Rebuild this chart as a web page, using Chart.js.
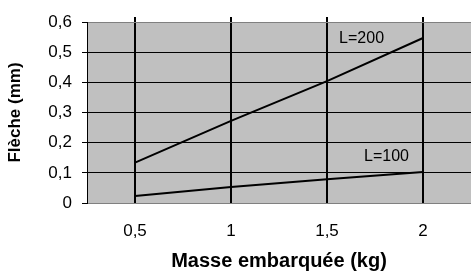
<!DOCTYPE html>
<html>
<head>
<meta charset="utf-8">
<script src="https://cdn.jsdelivr.net/npm/chart.js@4/dist/chart.umd.min.js"></script>
<style>
  html, body { margin: 0; padding: 0; background: #fff; }
  #wrap { width: 471px; height: 273px; }
</style>
</head>
<body>
<div id="wrap"><canvas id="fleche"></canvas></div>
<script>
// Flèche vs masse embarquée
const masses = [0.5, 1, 1.5, 2];
const flecheL200 = [0.134, 0.272, 0.404, 0.547];
const flecheL100 = [0.023, 0.053, 0.079, 0.103];
const xTicks = [0.5, 1, 1.5, 2];
const seriesNames = ["L=200", "L=100"];

const fmt = v => (Math.round(v * 10) / 10).toString().replace(".", ",");

// gray plot area + bits Excel draws that Chart.js doesn't
const plotDecor = {
  id: "plotDecor",
  beforeDraw(chart) {
    const { ctx, chartArea: a } = chart;
    ctx.save();
    ctx.fillStyle = "#fff";
    ctx.fillRect(0, 0, chart.width, chart.height);
    ctx.fillStyle = "#c0c0c0";
    ctx.fillRect(a.left, a.top, a.right - a.left, a.bottom - a.top);
    ctx.restore();
  },
  afterDraw(chart) {
    const { ctx, chartArea: a, scales } = chart;
    ctx.save();
    // vertical lines poke a little above the plot
    ctx.strokeStyle = "#000";
    ctx.lineWidth = 2;
    xTicks.forEach(v => {
      const x = scales.x.getPixelForValue(v);
      ctx.beginPath();
      ctx.moveTo(x, a.top - 5);
      ctx.lineTo(x, a.top);
      ctx.stroke();
    });
    // series labels
    ctx.fillStyle = "#000";
    ctx.font = "16px 'Liberation Sans', Arial, sans-serif";
    ctx.textAlign = "center";
    ctx.textBaseline = "middle";
    ctx.fillText(seriesNames[0], scales.x.getPixelForValue(1.68), scales.y.getPixelForValue(0.545));
    ctx.fillText(seriesNames[1], scales.x.getPixelForValue(1.81), scales.y.getPixelForValue(0.153));
    ctx.restore();
  }
};

new Chart(document.getElementById("fleche"), {
  type: "line",
  data: {
    datasets: [
      {
        label: seriesNames[0],
        data: masses.map((m, i) => ({ x: m, y: flecheL200[i] })),
        borderColor: "#000",
        borderWidth: 2,
        pointRadius: 0,
        tension: 0,
      },
      {
        label: seriesNames[1],
        data: masses.map((m, i) => ({ x: m, y: flecheL100[i] })),
        borderColor: "#000",
        borderWidth: 2,
        pointRadius: 0,
        tension: 0,
      },
    ],
  },
  options: {
    responsive: true,
    maintainAspectRatio: false,
    animation: false,
    layout: { padding: { top: 22, right: 0, left: 0, bottom: 0 } },
    plugins: { legend: { display: false }, tooltip: { enabled: false } },
    scales: {
      x: {
        type: "linear",
        min: 0.25,
        max: 2.25,
        afterBuildTicks: s => { s.ticks = xTicks.map(v => ({ value: v })); },
        afterFit: s => { s.height = 70; },
        border: { display: false },
        grid: { color: "#000", lineWidth: 2, drawTicks: false },
        ticks: {
          padding: 18,
          color: "#000",
          font: { family: "'Liberation Sans', Arial, sans-serif", size: 17 },
          callback: v => fmt(v),
        },
        title: {
          display: true,
          text: "Masse embarquée (kg)",
          color: "#000",
          padding: { top: 0, bottom: 0 },
          font: { family: "'Liberation Sans', Arial, sans-serif", size: 20, weight: "bold" },
        },
      },
      y: {
        min: 0,
        max: 0.6,
        afterFit: s => { s.width = 87; },
        border: { display: true, color: "#000", width: 1 },
        grid: {
          color: c => (c.tick.value === 0 || Math.abs(c.tick.value - 0.6) < 1e-6 ? "#808080" : "#000"),
          tickColor: "#000",
          tickLength: 5,
          lineWidth: 1,
        },
        ticks: {
          stepSize: 0.1,
          padding: 10,
          color: "#000",
          font: { family: "'Liberation Sans', Arial, sans-serif", size: 17 },
          callback: v => fmt(v),
        },
        title: {
          display: true,
          text: "Flèche (mm)",
          color: "#000",
          padding: { top: 5, bottom: 0 },
          font: { family: "'Liberation Sans', Arial, sans-serif", size: 17, weight: "bold" },
        },
      },
    },
  },
  plugins: [plotDecor],
});
</script>
</body>
</html>
